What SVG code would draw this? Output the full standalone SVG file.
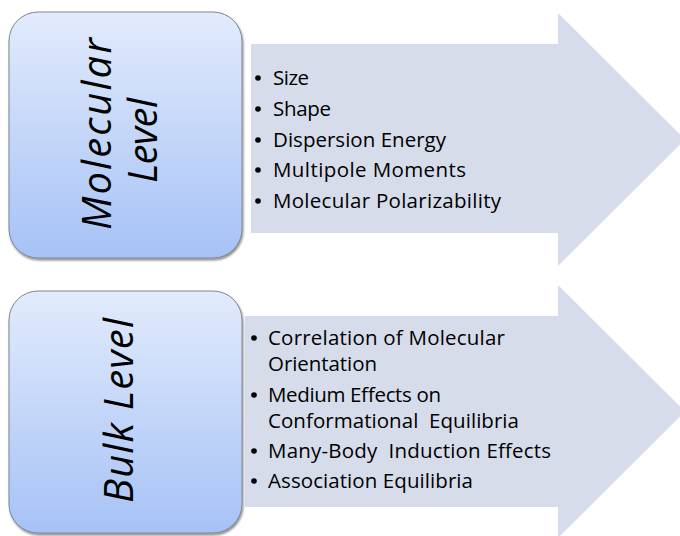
<svg xmlns="http://www.w3.org/2000/svg" width="680" height="536" viewBox="0 0 680 536">
<defs>
<linearGradient id="boxGrad" x1="0" y1="0" x2="0" y2="1">
<stop offset="0" stop-color="#e2ebfc"/>
<stop offset="1" stop-color="#a6c2f6"/>
</linearGradient>
<filter id="shadow" x="-10%" y="-10%" width="120%" height="120%">
<feGaussianBlur in="SourceAlpha" stdDeviation="1.2"/>
<feOffset dx="1" dy="1.5" result="b"/>
<feComponentTransfer><feFuncA type="linear" slope="0.45"/></feComponentTransfer>
<feMerge><feMergeNode/><feMergeNode in="SourceGraphic"/></feMerge>
</filter>
</defs>
<style>
.box{fill:url(#boxGrad);stroke:#7d8594;stroke-width:1;filter:url(#shadow)}
.arrow{fill:#d6dcea}
.title{font-family:"Open Sans",Lato,sans-serif;font-style:italic;font-size:40px;fill:#000;text-anchor:middle}
.item{font-family:"Open Sans",Lato,sans-serif;font-size:20.5px;fill:#000}
.dot{fill:#000}
</style>
<g id="connectors">
<polygon id="arrow-top" class="arrow" points="251,44 558,44 558,13 685,139.5 558,266 558,233 251,233"/>
<polygon id="arrow-bottom" class="arrow" points="245,316 558,316 558,285 685,411.5 558,538 558,507 245,507"/>
</g>
<g id="molecular-level">
<rect class="box" x="9" y="12" width="233" height="246" rx="29" ry="29"/>
<text class="title" transform="translate(111,134) rotate(-90)" textLength="192">Molecular</text>
<text class="title" transform="translate(157,140.5) rotate(-90)" textLength="85">Level</text>
</g>
<g id="molecular-items">
<circle class="dot" cx="258" cy="78" r="2.8"/>
<text class="item" x="273" y="85" textLength="36">Size</text>
<circle class="dot" cx="258" cy="109" r="2.8"/>
<text class="item" x="273" y="116" textLength="58">Shape</text>
<circle class="dot" cx="258" cy="140" r="2.8"/>
<text class="item" x="273" y="147" textLength="173">Dispersion Energy</text>
<circle class="dot" cx="258" cy="170" r="2.8"/>
<text class="item" x="273" y="177" textLength="193">Multipole Moments</text>
<circle class="dot" cx="258" cy="201" r="2.8"/>
<text class="item" x="273" y="208" textLength="228">Molecular Polarizability</text>
</g>
<g id="bulk-level">
<rect class="box" x="9" y="291" width="233" height="242" rx="29" ry="29"/>
<text class="title" transform="translate(133,410.5) rotate(-90)" textLength="185">Bulk Level</text>
</g>
<g id="bulk-items">
<circle class="dot" cx="254" cy="338" r="2.8"/>
<text class="item" x="268" y="345" textLength="237">Correlation of Molecular</text>
<text class="item" x="268" y="371" textLength="109">Orientation</text>
<circle class="dot" cx="254" cy="395" r="2.8"/>
<text class="item" x="268" y="402" textLength="173">Medium Effects on</text>
<text class="item" x="268" y="428" textLength="251" xml:space="preserve">Conformational  Equilibria</text>
<circle class="dot" cx="254" cy="451" r="2.8"/>
<text class="item" x="268" y="458" textLength="283" xml:space="preserve">Many-Body  Induction Effects</text>
<circle class="dot" cx="254" cy="481" r="2.8"/>
<text class="item" x="268" y="488" textLength="205">Association Equilibria</text>
</g>
</svg>
